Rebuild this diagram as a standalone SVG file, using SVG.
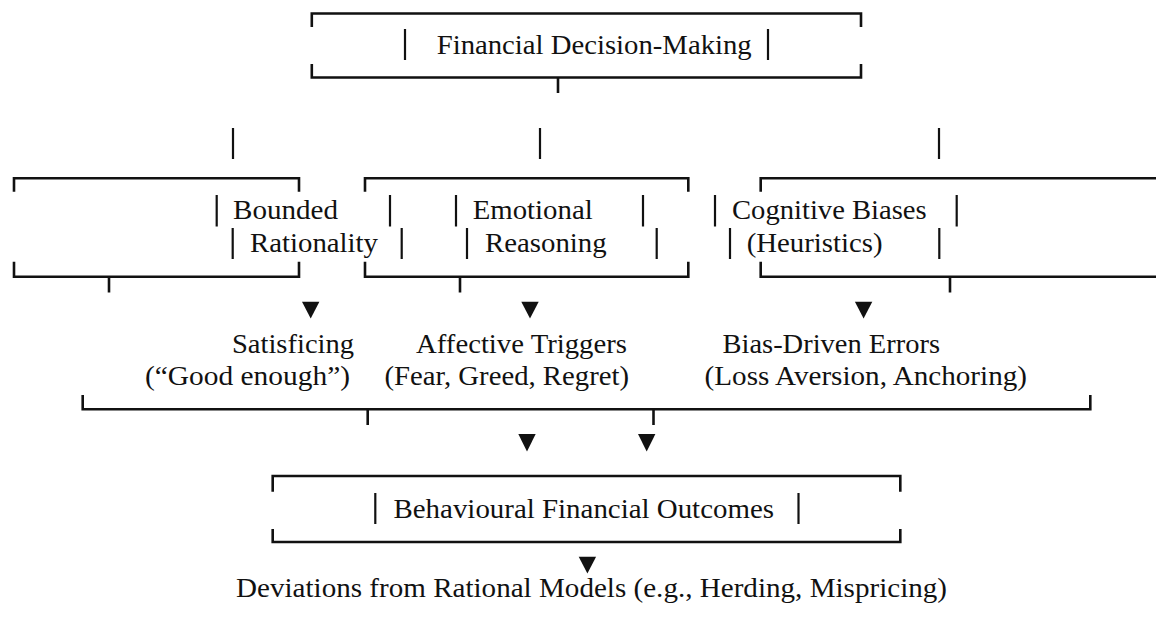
<svg xmlns="http://www.w3.org/2000/svg" width="1156" height="623" viewBox="0 0 1156 623">
<style>
text{font-family:"Liberation Serif","Times New Roman",serif;font-size:27px;fill:#111;}
.frame{fill:none;stroke:#111;stroke-width:2.6;stroke-linecap:butt;stroke-linejoin:miter}
.bar{stroke:#111;stroke-width:2.2}
.con{stroke:#111;stroke-width:2.6;fill:none}
.tri{fill:#111}
</style>
<rect width="1156" height="623" fill="#fff"/>
<g id="node-financial-decision-making">
<path class="frame" d="M311.8,27 V13.5 H861 V27 M311.8,64 V77.5 H861 V64"/>
<line class="bar" x1="405" y1="29" x2="405" y2="60"/>
<line class="bar" x1="768" y1="29" x2="768" y2="60"/>
<text x="436.7" y="54" textLength="315" lengthAdjust="spacingAndGlyphs">Financial Decision-Making</text>
</g>
<g id="node-bounded-rationality">
<path class="frame" d="M14,191.7 V178.3 H299 V191.7 M14,261.7 V276.7 H299 V261.7"/>
<line class="bar" x1="216.7" y1="195" x2="216.7" y2="226.5"/>
<line class="bar" x1="390" y1="195" x2="390" y2="226.5"/>
<line class="bar" x1="232.7" y1="228" x2="232.7" y2="259"/>
<line class="bar" x1="401.7" y1="228" x2="401.7" y2="259"/>
<text x="233" y="219.3" textLength="105" lengthAdjust="spacingAndGlyphs">Bounded</text>
<text x="250" y="251.7" textLength="128" lengthAdjust="spacingAndGlyphs">Rationality</text>
</g>
<g id="node-emotional-reasoning">
<path class="frame" d="M365,191.7 V178.3 H688.3 V191.7 M365,261.7 V276.7 H688.3 V261.7"/>
<line class="bar" x1="456" y1="195" x2="456" y2="226.5"/>
<line class="bar" x1="643" y1="195" x2="643" y2="226.5"/>
<line class="bar" x1="467" y1="228" x2="467" y2="259"/>
<line class="bar" x1="656.7" y1="228" x2="656.7" y2="259"/>
<text x="472.7" y="219.3" textLength="120" lengthAdjust="spacingAndGlyphs">Emotional</text>
<text x="485" y="251.7" textLength="121.7" lengthAdjust="spacingAndGlyphs">Reasoning</text>
</g>
<g id="node-cognitive-biases">
<path class="frame" d="M760.7,191.7 V178.3 H1158 V191.7 M760.7,261.7 V276.7 H1158 V261.7"/>
<line class="bar" x1="715" y1="195" x2="715" y2="226.5"/>
<line class="bar" x1="956.7" y1="195" x2="956.7" y2="226.5"/>
<line class="bar" x1="730" y1="228" x2="730" y2="259"/>
<line class="bar" x1="939.3" y1="228" x2="939.3" y2="259"/>
<text x="732" y="219.3" textLength="194.7" lengthAdjust="spacingAndGlyphs">Cognitive Biases</text>
<text x="746.7" y="251.7" textLength="136" lengthAdjust="spacingAndGlyphs">(Heuristics)</text>
</g>
<g id="node-satisficing">
<text x="232" y="352.7" textLength="122" lengthAdjust="spacingAndGlyphs">Satisficing</text>
<text x="145" y="385" textLength="205" lengthAdjust="spacingAndGlyphs">(“Good enough”)</text>
</g>
<g id="node-affective-triggers">
<text x="416" y="352.7" textLength="211" lengthAdjust="spacingAndGlyphs">Affective Triggers</text>
<text x="384.5" y="385" textLength="244.5" lengthAdjust="spacingAndGlyphs">(Fear, Greed, Regret)</text>
</g>
<g id="node-bias-driven-errors">
<text x="722.5" y="352.7" textLength="217.5" lengthAdjust="spacingAndGlyphs">Bias-Driven Errors</text>
<text x="704.6" y="385" textLength="322.4" lengthAdjust="spacingAndGlyphs">(Loss Aversion, Anchoring)</text>
</g>
<g id="node-behavioural-financial-outcomes">
<path class="frame" d="M272.7,491.7 V476 H900.3 V491.7 M272.7,529 V542 H900.3 V529"/>
<line class="bar" x1="375.3" y1="493" x2="375.3" y2="524"/>
<line class="bar" x1="798.5" y1="493" x2="798.5" y2="524"/>
<text x="393.5" y="517.5" textLength="380.5" lengthAdjust="spacingAndGlyphs">Behavioural Financial Outcomes</text>
</g>
<g id="node-deviations">
<text x="236" y="596.7" textLength="711" lengthAdjust="spacingAndGlyphs">Deviations from Rational Models (e.g., Herding, Mispricing)</text>
</g>
<g id="connectors">
<line class="con" x1="558" y1="77.5" x2="558" y2="93"/>
<line class="bar" x1="233" y1="128" x2="233" y2="159"/>
<line class="bar" x1="540" y1="128" x2="540" y2="159"/>
<line class="bar" x1="939" y1="128" x2="939" y2="159"/>
<line class="con" x1="109" y1="276.7" x2="109" y2="292.5"/>
<line class="con" x1="460" y1="276.7" x2="460" y2="292.5"/>
<line class="con" x1="950" y1="276.7" x2="950" y2="292.5"/>
<polygon class="tri" points="302,301.7 319.4,301.7 310.7,318.5"/>
<polygon class="tri" points="521.3,301.7 538.7,301.7 530,318.5"/>
<polygon class="tri" points="854.9,301.7 872.3,301.7 863.6,318.5"/>
<path class="con" d="M82.7,395 V409.3 H1090.3 V395"/>
<line class="con" x1="367.7" y1="409.3" x2="367.7" y2="425"/>
<line class="con" x1="653.5" y1="409.3" x2="653.5" y2="425"/>
<polygon class="tri" points="518.3,434 535.7,434 527,451.5"/>
<polygon class="tri" points="638,434 655.4,434 646.7,451.5"/>
<polygon class="tri" points="578.7,556.7 596.1,556.7 587.4,573.5"/>
</g>
</svg>
